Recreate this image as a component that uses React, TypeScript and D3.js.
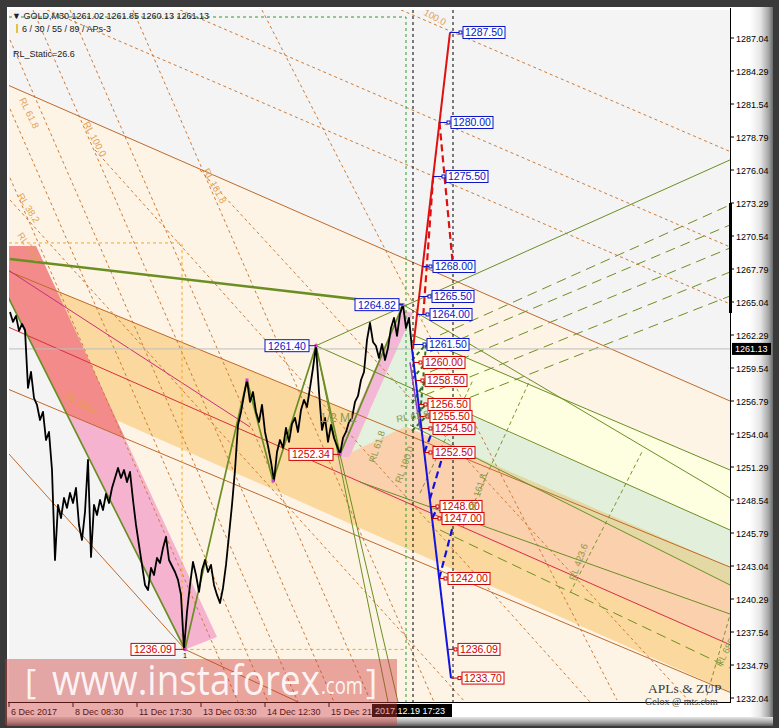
import React from 'react';
import * as d3 from 'd3';

const WIDTH = 779;
const HEIGHT = 728;

// ---- axes ----
const priceTicks = [1287.04, 1284.29, 1281.54, 1278.79, 1276.04, 1273.29, 1270.54, 1267.79, 1265.04, 1262.29, 1259.54, 1256.79, 1254.04, 1251.29, 1248.54, 1245.79, 1243.04, 1240.29, 1237.54, 1234.79, 1232.04];
const lastPrice = 1261.13;
const timeTickBars = [0, 64, 128, 192, 256, 320];
const timeTickLabels = ['6 Dec 2017', '8 Dec 08:30', '11 Dec 17:30', '13 Dec 03:30', '14 Dec 12:30', '15 Dec 21:30'];
const cursorTime = '2017.12.19 17:23';
const cursorBars = [404, 444];

// ---- GOLD M30 closes, one value every 3 bars starting at bar 1 ----
const closeStartBar = 1;
const closeStep = 3;
const closes = [
  1264.21, 1263.38, 1263.88, 1262.63, 1263.21, 1262.71,
  1257.88, 1259.21, 1257.04, 1256.46, 1255.21, 1255.88, 1253.54, 1254.21, 1251.04,
  1243.54, 1248.13, 1247.04, 1248.71, 1247.88, 1249.13, 1248.29, 1249.54, 1246.46, 1245.21, 1247.54,
  1251.88, 1243.79, 1248.13, 1247.29, 1248.54, 1247.71, 1249.04, 1248.29, 1249.54, 1250.38, 1251.21, 1250.38, 1251.04, 1250.04, 1250.88,
  1248.54, 1246.46, 1244.79, 1243.13, 1241.46, 1241.04, 1242.88, 1242.29, 1243.71, 1243.29, 1244.54, 1245.46,
  1243.54, 1243.04, 1242.54, 1241.88, 1240.63, 1236.09,
  1239.21, 1241.46, 1243.38, 1242.29, 1240.88, 1242.71, 1243.54, 1242.54, 1243.13, 1241.46, 1240.63, 1239.96,
  1241.21, 1243.13, 1245.63, 1248.13, 1251.04, 1254.79, 1255.88, 1257.29, 1258.54,
  1256.71, 1257.54, 1255.88, 1255.04, 1256.46, 1254.21, 1253.04, 1251.71, 1250.13,
  1252.54, 1253.54, 1252.88, 1254.54, 1253.38, 1254.88, 1255.38, 1254.21, 1256.04, 1256.88, 1256.29, 1257.88, 1259.54, 1261.40,
  1257.54, 1254.38, 1255.38, 1253.38, 1254.79, 1253.71, 1253.04, 1252.34,
  1253.71, 1254.21, 1255.04, 1255.38, 1256.71, 1257.21, 1258.54, 1259.21, 1261.88, 1263.29,
  1261.71, 1261.38, 1260.38, 1261.54, 1260.21, 1261.21, 1262.88, 1263.71, 1262.21, 1264.04, 1264.82,
  1262.88, 1263.71, 1261.13,
];

// ---- ZUP swing points [bar, price] ----
const zigzag = [[-1, 1265.46], [176, 1236.09], [238, 1258.54], [264, 1250.13], [307, 1261.40], [331, 1252.34], [394, 1264.82]];
const swingLabels = [
  { bar: 307, boxBar: 256, price: 1261.40, kind: 'up' },
  { bar: 394, boxBar: 346, price: 1264.82, kind: 'up' },
  { bar: 331, boxBar: 280, price: 1252.34, kind: 'down' },
  { bar: 176, boxBar: 122, price: 1236.09, kind: 'down' },
];

// ---- projected targets ----
const upSpine = [[404, 1261.13], [441, 1287.50]];
const downSpine = [[403, 1261.13], [442, 1233.70]];
const upTargets = [1287.50, 1280.00, 1275.50, 1268.00, 1265.50, 1264.00, 1261.50];
const upTargetBars = [454, 442, 437, 424, 423, 421, 418];
const downTargets = [1260.00, 1258.50, 1256.50, 1255.50, 1254.50, 1252.50, 1248.00, 1247.00, 1242.00, 1236.09, 1233.70];
const downTargetBars = [414, 416, 419, 421, 424, 424, 431, 433, 439, 449, 453];
const upPullbacks = [[1280.00, 444, 1268.00], [1275.50, 414, 1263.60]];
const downPullbacks = [[1252.50, 423, 1254.20], [1248.60, 434, 1252.30], [1247.00, 429, 1248.00], [1242.00, 444, 1246.40]];
const hatchPairs = [[1260.20, 1261.50], [1258.60, 1260.00], [1256.60, 1258.50], [1255.30, 1256.50], [1254.30, 1255.50]];

// ---- channel zones [bar, price] ----
const trendTop = [[1, 1283.04], [721, 1256.79]];
const channelUpper = [[1, 1267.55], [721, 1242.95]];
const channelLower = [[1, 1257.71], [721, 1232.51]];
const channelMedian = [[1, 1262.89], [721, 1236.48]];
const creamZone = [[1, 1283.04], [721, 1256.79], [721, 1231.71], [177, 1231.71], [176, 1236.09], [1, 1265.13]];
const wheatZone = [[-18, 1268.21], [721, 1242.96], [721, 1232.54], [57, 1257.06]];
const salmonZone = [[352, 1256.29], [721, 1242.96], [721, 1236.46], [323, 1250.79]];
const yellowZone = [[406, 1262.21], [721, 1251.04], [721, 1246.04], [406, 1257.63]];
const greenZone = [[401, 1257.79], [721, 1246.04], [721, 1241.46], [401, 1254.79]];
const pinkZone = [[-26, 1269.71], [27, 1269.71], [208, 1237.13], [176, 1236.09]];
const pinkRiseZone = [[327, 1252.13], [340, 1252.13], [404, 1264.13], [392, 1264.38]];
const mintZone = [[343, 1252.54], [402, 1263.88], [404, 1254.96]];

const thickTrend = [[1, 1268.63], [394, 1264.82]];
const oliveRays = [
  [[307, 1261.40], [721, 1276.88]],
  [[394, 1264.82], [721, 1248.71]],
  [[307, 1261.40], [379, 1231.71]],
  [[331, 1252.34], [389, 1231.71]],
  [[351, 1250.04], [721, 1239.04]],
  [[307, 1261.40], [721, 1246.04]],
  [[401, 1254.79], [721, 1241.46]],
  [[406, 1262.21], [721, 1251.04]],
];
const oliveDashedRays = [
  [[431, 1262.29], [721, 1273.13]],
  [[421, 1260.88], [721, 1271.46]],
  [[421, 1259.21], [721, 1269.54]],
  [[416, 1257.29], [721, 1267.54]],
  [[416, 1255.63], [721, 1265.54]],
  [[431, 1246.04], [721, 1234.54]],
];
const oliveRlLines = [
  [[411, 1249.12], [464, 1258.54]],
  [[454, 1246.29], [521, 1258.54]],
  [[561, 1240.79], [634, 1252.71]],
  [[696, 1231.71], [721, 1238.96]],
];
const brownSolid = [
  [[-1, 1252.46], [174, 1236.29]],
  [[176, 1236.09], [289, 1231.71]],
];
const magentaRay = [[-1, 1267.71], [241, 1254.63]];
const brownDashed = [
  [[392, 1289.38], [721, 1277.58]],
  [[171, 1289.38], [721, 1269.63]],
  [[38, 1289.38], [721, 1264.88]],
  [[1, 1275.38], [229, 1231.71]],
  [[1, 1281.13], [259, 1231.71]],
  [[1, 1286.88], [289, 1231.71]],
  [[24, 1289.37], [325, 1231.71]],
  [[61, 1289.37], [362, 1231.71]],
  [[124, 1289.37], [425, 1231.71]],
  [[253, 1289.37], [608, 1231.87]],
  [[1, 1273.54], [456, 1231.71]],
  [[86, 1277.71], [581, 1231.71]],
  [[191, 1276.04], [681, 1231.71]],
];
const boxOutline = [[0, 1269.96], [173, 1269.96], [173, 1236.09], [396, 1236.09]];
const timeBox = [[0, 1288.79], [397, 1288.79], [397, 1231.71]];
const axisMarker = [1273.29, 1264.12];

const levelTags = [
  { t: 'RL 61.8', bar: 10, price: 1281.9, a: 64, c: '#e2a256' },
  { t: 'RL 100.0', bar: 74, price: 1279.9, a: 62, c: '#e2a256' },
  { t: 'RL 161.8', bar: 194, price: 1276.0, a: 62, c: '#e2a256' },
  { t: 'RL 38.2', bar: 8, price: 1273.9, a: 58, c: '#e2a256' },
  { t: 'RL 23.6', bar: 8, price: 1270.6, a: 55, c: '#e2a256' },
  { t: 'RL 38.2', bar: 56, price: 1257.0, a: 28, c: '#e8a040' },
  { t: '100.0', bar: 414, price: 1289.0, a: 28, c: '#e2a256' },
  { t: 'RL 100.0', bar: 392, price: 1249.9, a: -70, c: '#8a9a4a' },
  { t: 'RL 61.8', bar: 366, price: 1251.6, a: -72, c: '#8a9a4a' },
  { t: 'RL 61.8', bar: 388, price: 1255.0, a: -10, c: '#8a9a4a' },
  { t: 'RL 161.8', bar: 466, price: 1247.6, a: -72, c: '#8a9a4a' },
  { t: 'RL 423.6', bar: 566, price: 1241.8, a: -70, c: '#8a9a4a' },
  { t: 'RL 685', bar: 712, price: 1234.6, a: -62, c: '#8a9a4a' },
];

const FONT = '"Liberation Sans", Arial, sans-serif';

export default function App() {
  const x = d3.scaleLinear().domain([0, 721]).range([9, 730]);
  const y = d3.scaleLinear().domain([1231.707, 1289.374]).range([702, 10]);
  const P = (d: number[][]) => d.map(([b, p]) => `${x(b)},${y(p)}`).join(' ');
  const at = (seg: number[][], b: number) => seg[0][1] + ((seg[1][1] - seg[0][1]) * (b - seg[0][0])) / (seg[1][0] - seg[0][0]);
  const spineBar = (s: number[][], p: number) => s[0][0] + ((p - s[0][1]) / (s[1][1] - s[0][1])) * (s[1][0] - s[0][0]);
  const closePath = d3.line<number>().x((_, i) => x(closeStartBar + i * closeStep)).y((d) => y(d))(closes) || '';
  const seg = (s: number[][], props: any, key?: any) => (
    <line key={key} x1={x(s[0][0])} y1={y(s[0][1])} x2={x(s[1][0])} y2={y(s[1][1])} {...props} />
  );
  const aboveLower = [[-40, 1292], [721, 1292], [721, at(channelLower, 721)], [-40, at(channelLower, -40)]];
  const full = (s: number[][]) => [[-40, at(s, -40)], [721, at(s, 721)]];

  const tag = (p: number, boxBar: number, fromBar: number, kind: string, key: any) => {
    const col = kind === 'up' ? '#0a14c8' : '#d00000';
    const bx = x(boxBar);
    const by = y(p);
    return (
      <g key={key}>
        <line x1={x(fromBar)} y1={by} x2={bx - 2} y2={by} stroke={kind === 'up' ? '#0a14c8' : '#c00000'} strokeWidth={1} />
        <rect x={bx - 4} y={by - 1.5} width={3} height={3} fill="#fff" stroke={col} strokeWidth={1} />
        <rect x={bx} y={by - 6} width={42} height={12} fill="#fff" stroke={col} strokeWidth={1} />
        <text x={bx + 2} y={by + 4} fontSize={10.5} fill={col} fontFamily={FONT}>{p.toFixed(2)}</text>
      </g>
    );
  };

  return (
    <svg width={WIDTH} height={HEIGHT} style={{ position: 'absolute', left: 0, top: 0 }}>
      <defs>
        <clipPath id="plot"><rect x={9} y={10} width={721} height={692} /></clipPath>
        <clipPath id="salmonClip"><polygon points={P(salmonZone)} /></clipPath>
        <clipPath id="aboveLower"><polygon points={P(aboveLower)} /></clipPath>
        <linearGradient id="bevelR" x1="0" x2="1" y1="0" y2="0">
          <stop offset="0" stopColor="#ffffff" />
          <stop offset="0.45" stopColor="#e6e6e6" />
          <stop offset="0.8" stopColor="#a8a8a8" />
          <stop offset="1" stopColor="#6a6a6a" />
        </linearGradient>
        <linearGradient id="bevelB" x1="0" x2="0" y1="0" y2="1">
          <stop offset="0" stopColor="#e8e8e8" />
          <stop offset="0.6" stopColor="#a0a0a0" />
          <stop offset="1" stopColor="#5a5a5a" />
        </linearGradient>
      </defs>

      {/* terminal frame */}
      <rect x={0} y={0} width={WIDTH} height={HEIGHT} fill="#3a3a3a" />
      <rect x={7} y={7} width={745} height={712} fill="#ffffff" />
      <rect x={750} y={7} width={23} height={712} fill="url(#bevelR)" />
      <rect x={7} y={717} width={766} height={9} fill="url(#bevelB)" />

      <g clipPath="url(#plot)">
        <rect x={9} y={10} width={721} height={692} fill="#f4f4f4" />
        <polygon points={P(creamZone)} fill="#fdf4e6" />
        <polygon points={P(wheatZone)} fill="#fbd89e" />
        <polygon points={P(salmonZone)} fill="#fbd0ad" />
        <polygon points={P(yellowZone)} fill="#fefee0" />
        <polygon points={P(greenZone)} fill="#e1efdb" />
        <polygon points={P(greenZone)} fill="#e4d9a5" clipPath="url(#salmonClip)" />
        <polygon points={P(pinkZone)} fill="#f5b3d0" />
        <polygon points={P(pinkZone)} fill="#f28b8a" clipPath="url(#aboveLower)" />
        <polygon points={P(mintZone)} fill="#e3f1de" />
        <polygon points={P(pinkRiseZone)} fill="#f2b8d5" />

        {/* dashed Fibonacci rays */}
        {brownDashed.map((s, i) => seg(s, { stroke: '#cf7b35', strokeWidth: 1, strokeDasharray: '3,3' }, 'bd' + i))}
        {oliveDashedRays.map((s, i) => seg(s, { stroke: '#6f8f1f', strokeWidth: 1, strokeDasharray: '10,6' }, 'od' + i))}
        {oliveRlLines.map((s, i) => seg(s, { stroke: '#7d9430', strokeWidth: 1, strokeDasharray: '4,3' }, 'ol' + i))}

        {/* channel borders */}
        {seg(full(trendTop), { stroke: '#c0692a', strokeWidth: 1 })}
        {seg(full(channelUpper), { stroke: '#c0692a', strokeWidth: 1 })}
        {seg(full(channelLower), { stroke: '#c0692a', strokeWidth: 1 })}
        {seg(full(channelMedian), { stroke: '#d8303a', strokeWidth: 1 })}
        {seg(magentaRay, { stroke: '#c8307a', strokeWidth: 1 })}
        {brownSolid.map((s, i) => seg(s, { stroke: '#c0692a', strokeWidth: 1 }, 'bs' + i))}
        {oliveRays.map((s, i) => seg(s, { stroke: '#6b8e23', strokeWidth: 1 }, 'or' + i))}

        {/* boxes and time markers */}
        <polyline points={P(boxOutline)} fill="none" stroke="#f0a630" strokeWidth={1} strokeDasharray="3,3" />
        <polyline points={P(timeBox)} fill="none" stroke="#2e9a2e" strokeWidth={1} strokeDasharray="3,3" />
        {cursorBars.map((b, i) => (
          <line key={'cb' + i} x1={x(b)} x2={x(b)} y1={10} y2={702} stroke="#000" strokeWidth={1} strokeDasharray="3,3" />
        ))}
        <line x1={9} x2={730} y1={y(lastPrice)} y2={y(lastPrice)} stroke="#bdbdbd" strokeWidth={1} />

        {/* ZUP */}
        <polyline points={P(thickTrend)} fill="none" stroke="#6b8e23" strokeWidth={2.6} />
        <polyline points={P(zigzag)} fill="none" stroke="#6b8e23" strokeWidth={1.7} />

        {/* price */}
        <path d={closePath} fill="none" stroke="#000" strokeWidth={1.8} strokeLinejoin="round" />
        {zigzag.slice(1).map(([b, p], i) => (
          <rect key={'zm' + i} x={x(b) - 1.5} y={y(p) - 1.5} width={3} height={3} fill="#d040d0" />
        ))}

        {/* projections */}
        {hatchPairs.map(([a, b], i) => (
          <line key={'h' + i} x1={x(403)} y1={y(a)} x2={x(417)} y2={y(b)} stroke="#2f6f2f" strokeWidth={2} strokeDasharray="4,3" />
        ))}
        <line x1={x(417)} y1={y(1261.5)} x2={x(410)} y2={y(1254.5)} stroke="#2f6f2f" strokeWidth={2} strokeDasharray="4,3" />
        <line x1={x(401)} y1={y(1260.0)} x2={x(411)} y2={y(1254.5)} stroke="#9040c0" strokeWidth={1.5} />
        {upPullbacks.map(([from, b, to], i) => (
          <line key={'up' + i} x1={x(spineBar(upSpine, from))} y1={y(from)} x2={x(b)} y2={y(to)} stroke="#e01010" strokeWidth={2.2} strokeDasharray="7,4" />
        ))}
        {downPullbacks.map(([from, b, to], i) => (
          <line key={'dp' + i} x1={x(spineBar(downSpine, from))} y1={y(from)} x2={x(b)} y2={y(to)} stroke="#1010e0" strokeWidth={2.2} strokeDasharray="7,4" />
        ))}
        <polyline points={P(upSpine)} fill="none" stroke="#e01010" strokeWidth={2} />
        <polyline points={P(downSpine)} fill="none" stroke="#1414e0" strokeWidth={2} />
        {upTargets.map((p, i) => tag(p, upTargetBars[i], spineBar(upSpine, p), 'up', 'ut' + i))}
        {downTargets.map((p, i) => tag(p, downTargetBars[i], spineBar(downSpine, p), 'down', 'dt' + i))}
        {swingLabels.map((s, i) => {
          const col = s.kind === 'up' ? '#0a14c8' : '#d00000';
          const bx = x(s.boxBar);
          const by = y(s.price);
          return (
            <g key={'sl' + i}>
              <line x1={bx + 44} x2={x(s.bar)} y1={by} y2={by} stroke={col} strokeWidth={1} />
              <rect x={bx} y={by - 6} width={44} height={12} fill="#fff" stroke={col} strokeWidth={1} />
              <text x={bx + 3} y={by + 4} fontSize={10.5} fill={col} fontFamily={FONT}>{s.price.toFixed(2)}</text>
            </g>
          );
        })}
        <text x={x(174)} y={y(1236.09) + 8.5} fontSize={7} fontFamily={FONT} fill="#000">1</text>

        {levelTags.map((l, i) => (
          <text key={'lt' + i} x={x(l.bar)} y={y(l.price)} fontSize={9.5} fill={l.c} fontFamily={FONT}
            transform={`rotate(${l.a} ${x(l.bar)} ${y(l.price)})`}>{l.t}</text>
        ))}
        <text x={x(311)} y={y(1255.0)} fontSize={12} fill="#8a9a5a" fontFamily={FONT}>1/2 ML</text>
      </g>

      {/* price axis */}
      <line x1={730.5} x2={730.5} y1={8} y2={703} stroke="#000" strokeWidth={1} />
      <rect x={729} y={y(axisMarker[0])} width={3} height={y(axisMarker[1]) - y(axisMarker[0])} fill="#000" />
      {priceTicks.map((t) => (
        <g key={t}>
          <line x1={730} x2={734} y1={y(t)} y2={y(t)} stroke="#000" />
          <text x={736} y={y(t) + 3.5} fontSize={9} fontFamily={FONT} fill="#000">{t.toFixed(2)}</text>
        </g>
      ))}
      <rect x={732} y={y(lastPrice) - 6} width={39} height={12} fill="#000" />
      <text x={735} y={y(lastPrice) + 3.5} fontSize={9} fontFamily={FONT} fill="#fff">{lastPrice.toFixed(2)}</text>

      {/* time axis */}
      <line x1={8} x2={731} y1={702.5} y2={702.5} stroke="#000" strokeWidth={1} />
      {timeTickBars.map((b, i) => (
        <g key={'tt' + i}>
          <line x1={x(b)} x2={x(b)} y1={702} y2={707} stroke="#000" />
          <text x={x(b) + 2} y={715} fontSize={9} fontFamily={FONT} fill="#000">{timeTickLabels[i]}</text>
        </g>
      ))}
      <rect x={372} y={704} width={80} height={13} fill="#000" />
      <text x={375} y={714} fontSize={9} fontFamily={FONT} fill="#fff">{cursorTime}</text>

      {/* chart header */}
      <text x={12} y={19} fontSize={9} fontFamily={FONT} fill="#222">▼ GOLD,M30  1261.02 1261.85 1260.13 1261.13</text>
      <rect x={16} y={24} width={2} height={9} fill="#e8c040" />
      <text x={22} y={32} fontSize={9} fontFamily={FONT} fill="#222">6 / 30 / 55 / 89 / APs-3</text>
      <text x={13} y={57} fontSize={9} fontFamily={FONT} fill="#222">RL_Static=26.6</text>

      {/* signatures */}
      <text x={648} y={693} fontSize={13.5} fontFamily='"Liberation Serif", serif' fill="#3a3a3a">APLs &amp; ZUP</text>
      <text x={645} y={705} fontSize={10} fontFamily='"Liberation Serif", serif' fill="#444">Gelox @ mts.com</text>

      <g>
        <rect x={5} y={659} width={392} height={66} fill="rgb(205,55,55)" fillOpacity={0.42} />
        <text x={25} y={694} fontSize={34} fontFamily='"Open Sans", sans-serif' fill="#fff" fillOpacity={0.9}>[</text>
        <text x={52} y={695} fontSize={42} fontFamily='"Open Sans", sans-serif' fill="#fff" fillOpacity={0.9} textLength={268} lengthAdjust="spacingAndGlyphs">www.instaforex</text>
        <text x={321} y={694} fontSize={24} fontFamily='"Open Sans", sans-serif' fill="#fff" fillOpacity={0.9} textLength={42} lengthAdjust="spacingAndGlyphs">.com</text>
        <text x={366} y={694} fontSize={34} fontFamily='"Open Sans", sans-serif' fill="#fff" fillOpacity={0.9}>]</text>
      </g>
    </svg>
  );
}
